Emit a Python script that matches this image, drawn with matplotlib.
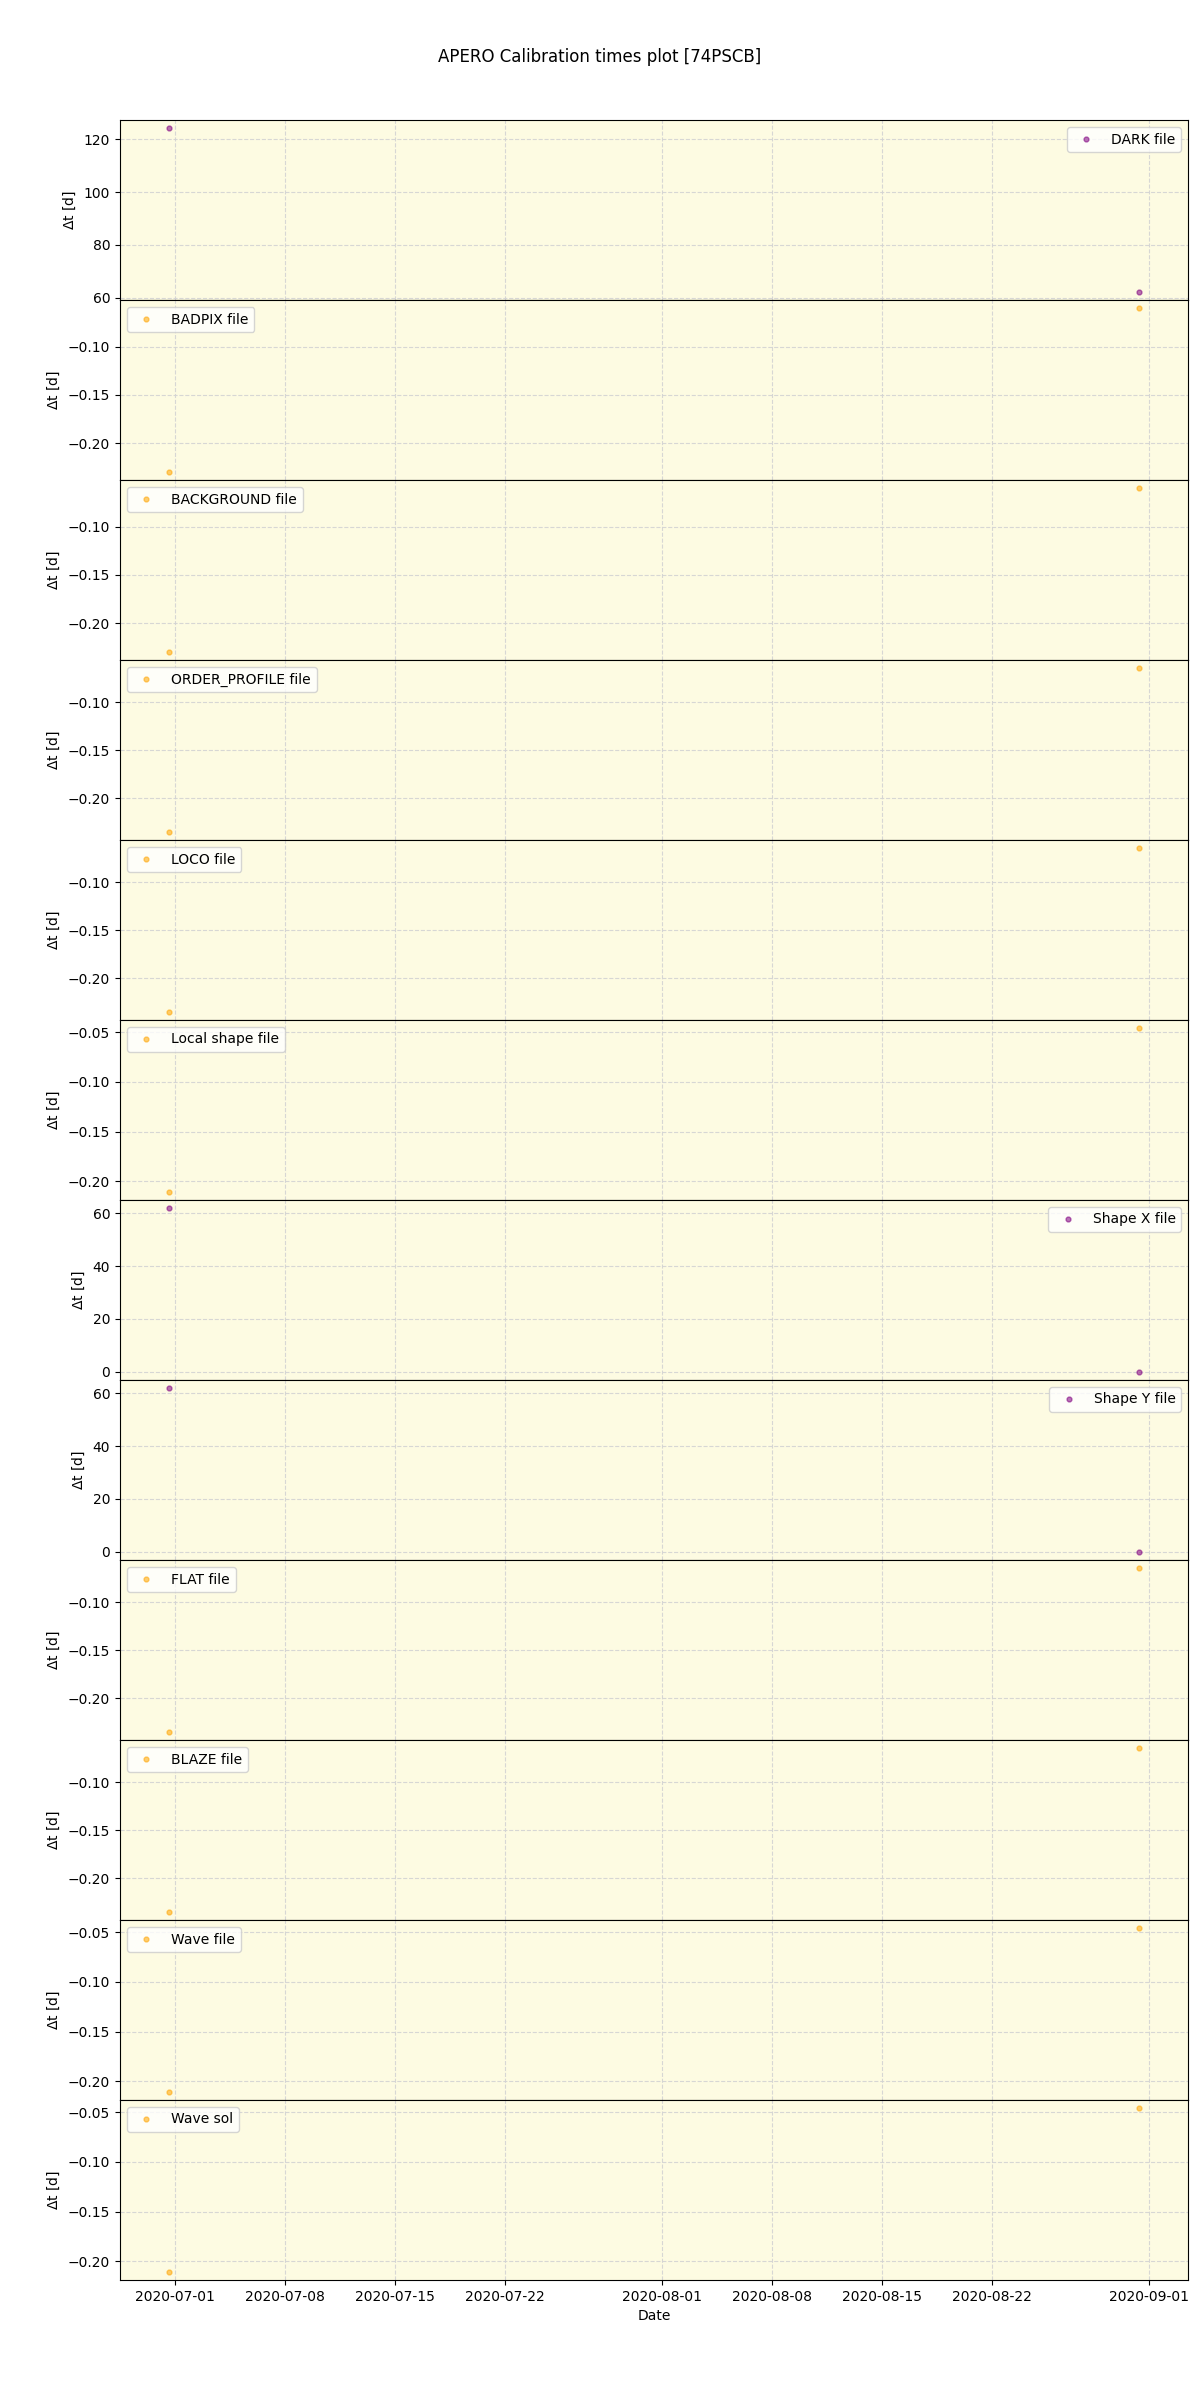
import matplotlib
matplotlib.use('Agg')
import matplotlib.pyplot as plt
import pandas as pd


obs_dates = pd.to_datetime(['2020-06-30 14:30', '2020-08-31 10:00'])

labels = ['DARK file', 'BADPIX file', 'BACKGROUND file', 'ORDER_PROFILE file',
          'LOCO file', 'Local shape file', 'Shape X file', 'Shape Y file',
          'FLAT file', 'BLAZE file', 'Wave file', 'Wave sol']

dark = [124.15, 62.26]
badpix = [-0.2295, -0.0602]
background = [-0.2295, -0.0602]
order_profile = [-0.2349, -0.0645]
loco = [-0.2349, -0.0645]
local_shape = [-0.2106, -0.0459]
shape_x = [61.9, 0.0]
shape_y = [61.9, 0.0]
flat = [-0.2351, -0.0642]
blaze = [-0.2350, -0.0642]
wave_file = [-0.2106, -0.0459]
wave_sol = [-0.2106, -0.0460]

series = [dark, badpix, background, order_profile, loco, local_shape,
          shape_x, shape_y, flat, blaze, wave_file, wave_sol]
colors = ['purple', 'orange', 'orange', 'orange', 'orange', 'orange',
          'purple', 'purple', 'orange', 'orange', 'orange', 'orange']
legend_loc = ['upper right', 'upper left', 'upper left', 'upper left',
              'upper left', 'upper left', 'upper right', 'upper right',
              'upper left', 'upper left', 'upper left', 'upper left']


fig, axes = plt.subplots(len(labels), 1, figsize=(12, 24), dpi=100, sharex=True)

for ax, lab, vals, col, loc in zip(axes, labels, series, colors, legend_loc):
    ax.plot(obs_dates, vals, marker='o', ls='none', ms=3.5, color=col,
            alpha=0.55, label=lab)
    ax.set_facecolor('#fdfbe2')
    ax.grid(True, ls='--', color='lightgray', alpha=0.9)
    ax.set_axisbelow(True)
    ax.set_ylabel(r'$\Delta$t [d]')
    ax.legend(loc=loc)

axes[-1].set_xlabel('Date')
fig.suptitle('APERO Calibration times plot [74PSCB]')
plt.subplots_adjust(left=0.1, right=0.99, top=0.95, bottom=0.05, hspace=0)

plt.savefig('out.png')
